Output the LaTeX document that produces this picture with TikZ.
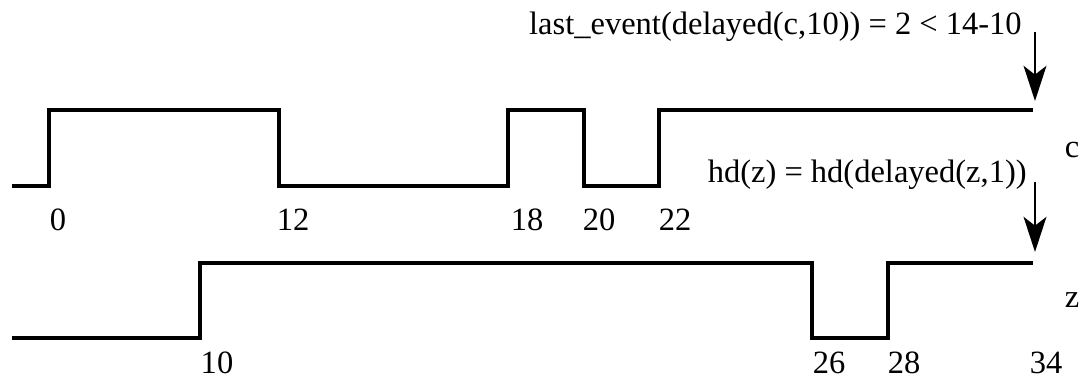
\documentclass[tikz,border=0pt]{standalone}
\usepackage{fontspec}
\setmainfont{Liberation Serif}
\usetikzlibrary{arrows.meta}

\begin{document}
\begin{tikzpicture}[x=0.02cm,y=-0.02cm,
    wave/.style={line width=2pt},
    tick/.style={font=\fontsize{18.5}{22}\selectfont, anchor=base, inner sep=0pt},
    note/.style={font=\fontsize{18.5}{22}\selectfont, anchor=base east, inner sep=0pt},
    pointer/.style={-{Stealth[length=20pt,width=13pt,inset=5pt]}, line width=1.2pt}]
                \useasboundingbox (0,0) rectangle (1083,385);
                \draw [wave] (12,186) -| (49,110) -| (279,186) -| (508,110) -| (584,186) -| (659,110) -- (1033,110);
                \draw [wave] (12,338) -| (200,263) -| (812,338) -| (888,263) -- (1033,263);
                \node [tick] (c0) at (58,231) {0};
                \node [tick] (c12) at (293,231) {12};
                \node [tick] (c18) at (527,231) {18};
                \node [tick] (c20) at (599,231) {20};
                \node [tick] (c22) at (675,231) {22};
                \node [tick] (z10) at (217,373) {10};
                \node [tick] (z26) at (829,373) {26};
                \node [tick] (z28) at (904,373) {28};
                \node [tick] (z34) at (1046,373) {34};
                \node [tick, anchor=center] (cname) at (1072,150) {c};
                \node [tick, anchor=center] (zname) at (1072,300) {z};
                \node [note] (lastevent) at (1022,35) {last\_event(delayed(c,10)) = 2 < 14-10};
                \node [note] (hdz) at (1027,183) {hd(z) = hd(delayed(z,1))};
                \coordinate (ctop) at (1035,32);
                \coordinate (cend) at (1035,101);
                \coordinate (ztop) at (1035,182);
                \coordinate (zend) at (1035,252);
                \draw [pointer] (ctop) -- (cend);
                \draw [pointer] (ztop) -- (zend);
\end{tikzpicture}
\end{document}
